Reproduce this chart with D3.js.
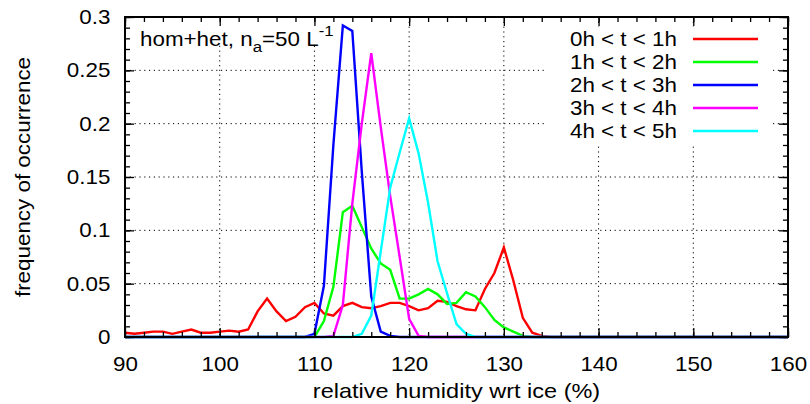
<!DOCTYPE html>
<html>
<head>
<meta charset="utf-8">
<script src="https://cdn.jsdelivr.net/npm/d3@7"></script>
<style>
  body { margin: 0; background: #fff; }
  svg text { font-family: "Liberation Sans", Arial, sans-serif; fill: #000; }
</style>
</head>
<body>
<div id="chart"></div>
<script>
// relative humidity bins (%), one value per bin for each series
const rh = [
   90,  91,  92,  93,  94,  95,  96,  97,  98,  99,
  100, 101, 102, 103, 104, 105, 106, 107, 108, 109,
  110, 111, 112, 113, 114, 115, 116, 117, 118, 119,
  120, 121, 122, 123, 124, 125, 126, 127, 128, 129,
  130, 131, 132, 133, 134, 135, 136, 137, 138, 139,
  140, 141, 142, 143, 144, 145, 146, 147, 148, 149,
  150, 151, 152, 153, 154, 155, 156, 157, 158, 159, 160
];

const h0to1 = [
  0.004, 0.003, 0.004, 0.005, 0.005, 0.003, 0.005, 0.007, 0.004, 0.004,
  0.005, 0.006, 0.005, 0.007, 0.024, 0.036, 0.024, 0.015, 0.019, 0.028,
  0.032, 0.022, 0.020, 0.029, 0.032, 0.028, 0.027, 0.029, 0.032, 0.032,
  0.029, 0.025, 0.027, 0.034, 0.033, 0.029, 0.026, 0.025, 0.045, 0.060,
  0.084, 0.053, 0.018, 0.004, 0.001, 0, 0, 0, 0, 0,
  0, 0, 0, 0, 0, 0, 0, 0, 0, 0,
  0, 0, 0, 0, 0, 0, 0, 0, 0, 0, 0
];
const h1to2 = [
  0, 0, 0, 0, 0, 0, 0, 0, 0, 0,
  0, 0, 0, 0, 0, 0, 0, 0, 0, 0,
  0, 0.015, 0.047, 0.117, 0.123, 0.103, 0.083, 0.069, 0.063, 0.036,
  0.036, 0.040, 0.045, 0.040, 0.031, 0.032, 0.042, 0.038, 0.028, 0.016,
  0.009, 0.005, 0.001, 0, 0, 0, 0, 0, 0, 0,
  0, 0, 0, 0, 0, 0, 0, 0, 0, 0,
  0, 0, 0, 0, 0, 0, 0, 0, 0, 0, 0
];
const h2to3 = [
  0, 0, 0, 0, 0, 0, 0, 0, 0, 0,
  0, 0, 0, 0, 0, 0, 0, 0, 0, 0,
  0.003, 0.048, 0.180, 0.292, 0.287, 0.155, 0.038, 0.005, 0.001, 0,
  0, 0, 0, 0, 0, 0, 0, 0, 0, 0,
  0, 0, 0, 0, 0, 0, 0, 0, 0, 0,
  0, 0, 0, 0, 0, 0, 0, 0, 0, 0,
  0, 0, 0, 0, 0, 0, 0, 0, 0, 0, 0
];
const h3to4 = [
  0, 0, 0, 0, 0, 0, 0, 0, 0, 0,
  0, 0, 0, 0, 0, 0, 0, 0, 0, 0,
  0, 0, 0.001, 0.030, 0.125, 0.200, 0.266, 0.197, 0.132, 0.075,
  0.017, 0.001, 0, 0, 0, 0, 0, 0, 0, 0,
  0, 0, 0, 0, 0, 0, 0, 0, 0, 0,
  0, 0, 0, 0, 0, 0, 0, 0, 0, 0,
  0, 0, 0, 0, 0, 0, 0, 0, 0, 0, 0
];
const h4to5 = [
  0, 0, 0, 0, 0, 0, 0, 0, 0, 0,
  0, 0, 0, 0, 0, 0, 0, 0, 0, 0,
  0, 0, 0, 0, 0, 0.003, 0.020, 0.080, 0.140, 0.173,
  0.205, 0.172, 0.126, 0.071, 0.041, 0.012, 0.003, 0, 0, 0,
  0, 0, 0, 0, 0, 0, 0, 0, 0, 0,
  0, 0, 0, 0, 0, 0, 0, 0, 0, 0,
  0, 0, 0, 0, 0, 0, 0, 0, 0, 0, 0
];

const seriesNames = ['0h < t < 1h', '1h < t < 2h', '2h < t < 3h', '3h < t < 4h', '4h < t < 5h'];
const seriesValues = [h0to1, h1to2, h2to3, h3to4, h4to5];
const seriesColors = ['#ff0000', '#00ff00', '#0000ff', '#ff00ff', '#00ffff'];

const xTicks = [90, 100, 110, 120, 130, 140, 150, 160];
const yTicks = [0, 0.05, 0.1, 0.15, 0.2, 0.25, 0.3];

const W = 810, H = 404;
const M = { top: 17, right: 22, bottom: 67, left: 125 };
const innerW = W - M.left - M.right, innerH = H - M.top - M.bottom;
const FS = 20, SX = 1.12;   // text is a little wide in the original

const svg = d3.select('#chart').append('svg').attr('width', W).attr('height', H);
const g = svg.append('g').attr('transform', `translate(${M.left},${M.top})`);

const x = d3.scaleLinear().domain([90, 160]).range([0, innerW]);
const y = d3.scaleLinear().domain([0, 0.3]).range([innerH, 0]);

// grid (dotted, inner majors only)
const grid = g.append('g').attr('stroke', '#000').attr('stroke-width', 1).attr('stroke-dasharray', '1.2 3.6');
grid.selectAll('line.gx').data(xTicks.slice(1, -1)).join('line')
  .attr('x1', d => x(d)).attr('x2', d => x(d)).attr('y1', 0).attr('y2', innerH);
grid.selectAll('line.gy').data(yTicks.slice(1, -1)).join('line')
  .attr('y1', d => y(d)).attr('y2', d => y(d)).attr('x1', 0).attr('x2', innerW);

// opaque boxes behind title and key
g.append('rect').attr('x', 8).attr('y', 2).attr('width', 207).attr('height', 26).attr('fill', '#fff');
g.append('rect').attr('x', 420).attr('y', 10).attr('width', 228).attr('height', 116).attr('fill', '#fff');

// curves
const line = d3.line().x((d, i) => x(rh[i])).y(d => y(d));
g.append('g').selectAll('path').data(seriesValues).join('path')
  .attr('d', line)
  .attr('fill', 'none')
  .attr('stroke', (d, i) => seriesColors[i])
  .attr('stroke-width', 2.4)
  .attr('stroke-linejoin', 'miter');

// axes: majors with labels, minors, mirrored on top/right
function styleAxis(sel) {
  sel.select('.domain').remove();
  sel.selectAll('line').attr('stroke', '#000').attr('stroke-width', 1.3);
}
const xMinor = d3.range(90, 161, 2);
const yMinor = d3.range(0, 0.3001, 0.01);

g.append('g').attr('transform', `translate(0,${innerH})`)
  .call(d3.axisBottom(x).tickValues(xTicks).tickSize(-9).tickPadding(20).tickFormat(d3.format('d')))
  .call(styleAxis)
  .selectAll('text').style('font-size', FS + 'px').attr('transform', `scale(${SX},1)`);
g.append('g').attr('transform', `translate(0,${innerH})`)
  .call(d3.axisBottom(x).tickValues(xMinor).tickSize(-5).tickFormat(''))
  .call(styleAxis);
g.append('g')
  .call(d3.axisTop(x).tickValues(xTicks).tickSize(-9).tickFormat(''))
  .call(styleAxis);
g.append('g')
  .call(d3.axisTop(x).tickValues(xMinor).tickSize(-5).tickFormat(''))
  .call(styleAxis);

g.append('g')
  .call(d3.axisLeft(y).tickValues(yTicks).tickSize(-9).tickPadding(13).tickFormat(d3.format('~g')))
  .call(styleAxis)
  .selectAll('text').style('font-size', FS + 'px').attr('transform', `scale(${SX},1)`);
g.append('g')
  .call(d3.axisLeft(y).tickValues(yMinor).tickSize(-5).tickFormat(''))
  .call(styleAxis);
g.append('g').attr('transform', `translate(${innerW},0)`)
  .call(d3.axisRight(y).tickValues(yTicks).tickSize(-9).tickFormat(''))
  .call(styleAxis);
g.append('g').attr('transform', `translate(${innerW},0)`)
  .call(d3.axisRight(y).tickValues(yMinor).tickSize(-5).tickFormat(''))
  .call(styleAxis);

// frame
g.append('rect').attr('width', innerW).attr('height', innerH)
  .attr('fill', 'none').attr('stroke', '#000').attr('stroke-width', 2);

// title label
const title = g.append('text').attr('transform', `translate(15,29) scale(${SX},1)`)
  .style('font-size', FS + 'px');
title.append('tspan').text('hom+het, n');
title.append('tspan').attr('dy', 6).style('font-size', '15px').text('a');
title.append('tspan').attr('dy', -6).text('=50 L');
title.append('tspan').attr('dy', -10).style('font-size', '15px').text('-1');

// key
const key = g.append('g');
const rowY = i => 22 + i * 23;
key.selectAll('text').data(seriesNames).join('text')
  .attr('transform', (d, i) => `translate(552,${rowY(i) + 7}) scale(${SX},1)`)
  .attr('text-anchor', 'end')
  .style('font-size', FS + 'px')
  .text(d => d);
key.selectAll('line').data(seriesNames).join('line')
  .attr('x1', 568).attr('x2', 633)
  .attr('y1', (d, i) => rowY(i)).attr('y2', (d, i) => rowY(i))
  .attr('stroke', (d, i) => seriesColors[i]).attr('stroke-width', 2.4);

// axis titles
svg.append('text')
  .attr('transform', `translate(${M.left + innerW / 2},398) scale(${SX},1)`)
  .attr('text-anchor', 'middle').style('font-size', '21px')
  .text('relative humidity wrt ice (%)');
svg.append('text')
  .attr('transform', `translate(30,${M.top + innerH / 2}) rotate(-90) scale(${SX},1)`)
  .attr('text-anchor', 'middle').style('font-size', FS + 'px')
  .text('frequency of occurrence');
</script>
</body>
</html>
